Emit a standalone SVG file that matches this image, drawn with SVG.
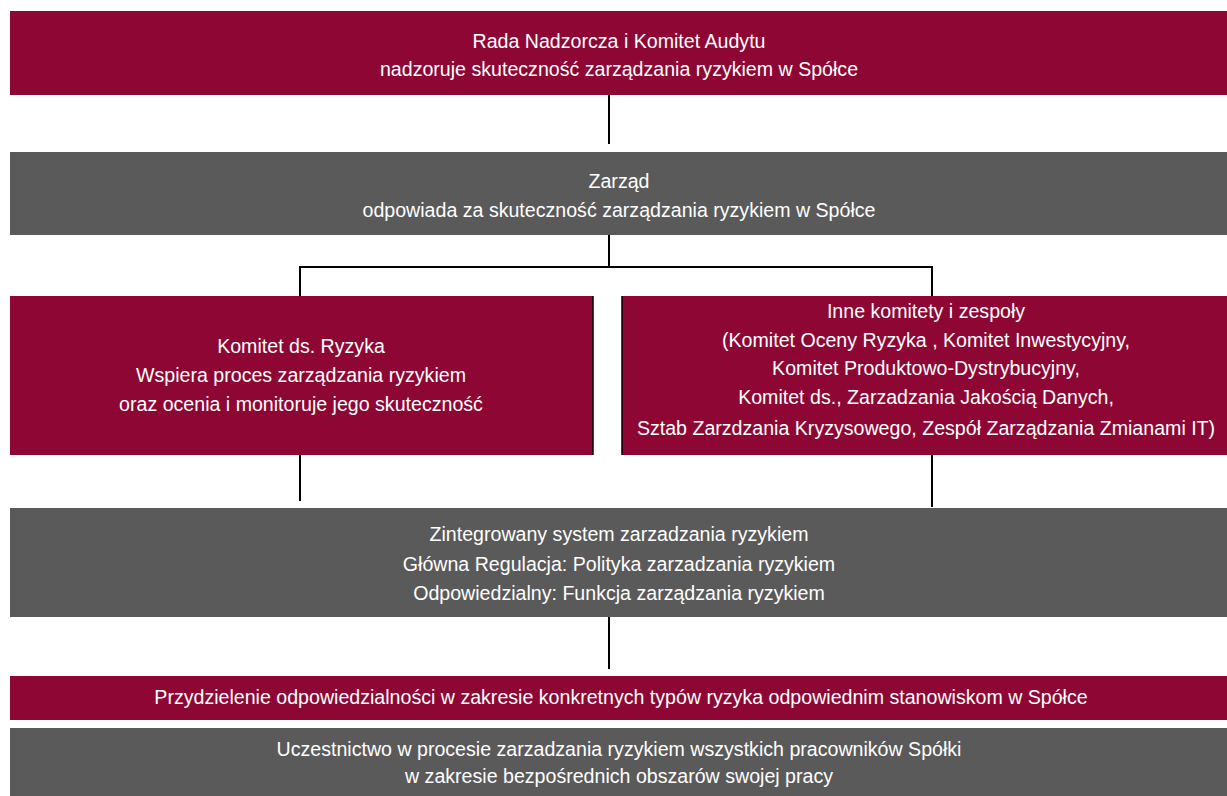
<svg xmlns="http://www.w3.org/2000/svg" width="1227" height="796" viewBox="0 0 1227 796">
<style>
.red{fill:#8E0734}
.gray{fill:#5A5A5A}
text{font-family:"Liberation Sans",Arial,sans-serif;font-size:19.6px;fill:#FFFFFF;text-anchor:middle}
.ln{stroke:#000;stroke-width:2;fill:none}
</style>
<rect width="1227" height="796" fill="#FFFFFF"/>
<g id="rada">
<rect class="red" x="10" y="11" width="1217" height="84"/>
<text x="619" y="48">Rada Nadzorcza i Komitet Audytu</text>
<text x="619" y="76">nadzoruje skuteczność zarządzania ryzykiem w Spółce</text>
</g>
<g id="zarzad">
<rect class="gray" x="10" y="152" width="1217" height="83"/>
<text x="619" y="188">Zarząd</text>
<text x="619" y="217">odpowiada za skuteczność zarządzania ryzykiem w Spółce</text>
</g>
<g id="komitet">
<rect class="red" x="10" y="296" width="583" height="159"/>
<text x="301" y="353">Komitet ds. Ryzyka</text>
<text x="301" y="382">Wspiera proces zarządzania ryzykiem</text>
<text x="301" y="411">oraz ocenia i monitoruje jego skuteczność</text>
</g>
<g id="inne">
<rect class="red" x="622" y="296" width="605" height="159"/>
<text x="926" y="318">Inne komitety i zespoły</text>
<text x="926" y="347">(Komitet Oceny Ryzyka , Komitet Inwestycyjny,</text>
<text x="926" y="375">Komitet Produktowo-Dystrybucyjny,</text>
<text x="926" y="404">Komitet ds., Zarzadzania Jakością Danych,</text>
<text x="926" y="435">Sztab Zarzdzania Kryzysowego, Zespół Zarządzania Zmianami IT)</text>
</g>
<g id="system">
<rect class="gray" x="10" y="508" width="1217" height="109"/>
<text x="619" y="541">Zintegrowany system zarzadzania ryzykiem</text>
<text x="619" y="571">Główna Regulacja: Polityka zarzadzania ryzykiem</text>
<text x="619" y="600">Odpowiedzialny: Funkcja zarządzania ryzykiem</text>
</g>
<g id="przydzielenie">
<rect class="red" x="10" y="676" width="1217" height="44"/>
<text x="621" y="704">Przydzielenie odpowiedzialności w zakresie konkretnych typów ryzyka odpowiednim stanowiskom w Spółce</text>
</g>
<g id="uczestnictwo">
<rect class="gray" x="10" y="728" width="1217" height="68"/>
<text x="619" y="756">Uczestnictwo w procesie zarzadzania ryzykiem wszystkich pracowników Spółki</text>
<text x="619" y="783">w zakresie bezpośrednich obszarów swojej pracy</text>
</g>
<g id="connectors">
<line class="ln" x1="609" y1="95" x2="609" y2="144"/>
<line class="ln" x1="609" y1="235" x2="609" y2="268"/>
<polyline class="ln" points="300,296 300,267 932,267 932,296"/>
<line class="ln" x1="300" y1="455" x2="300" y2="501"/>
<line class="ln" x1="932" y1="455" x2="932" y2="507"/>
<line class="ln" x1="609" y1="617" x2="609" y2="669"/>
<line stroke="#000" stroke-width="1.5" x1="593" y1="296" x2="593" y2="455"/>
<line stroke="#000" stroke-width="1.5" x1="622" y1="296" x2="622" y2="455"/>
</g>
</svg>
